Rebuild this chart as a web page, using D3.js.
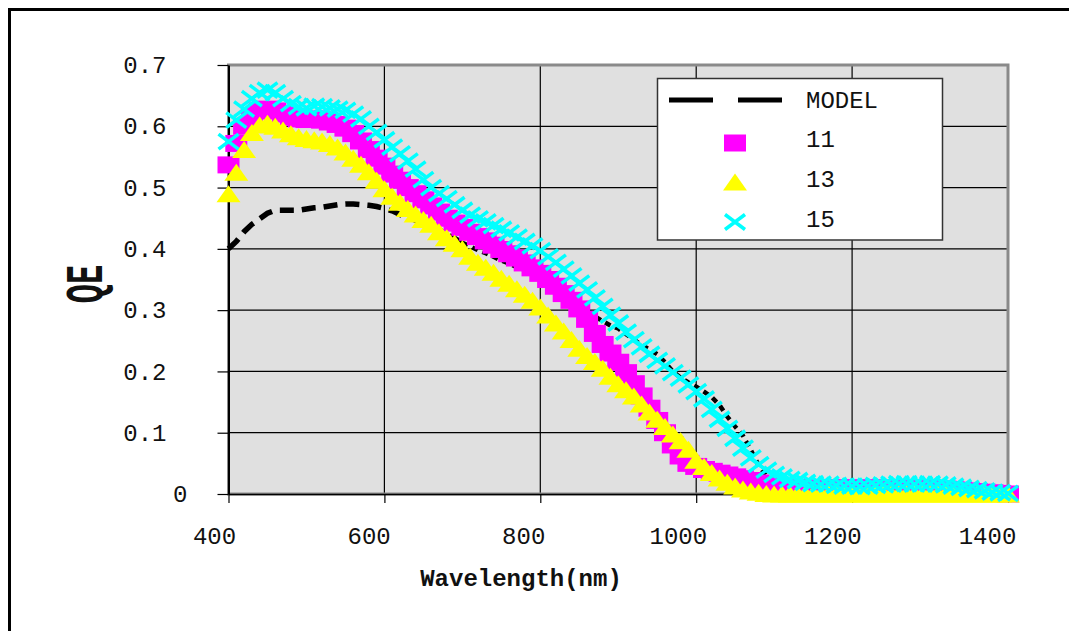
<!DOCTYPE html>
<html><head><meta charset="utf-8">
<script src="https://cdn.jsdelivr.net/npm/d3@7/dist/d3.min.js"></script>
<style>
body{margin:0;background:#fff;}
svg{display:block;}
text{font-family:'Liberation Mono','Courier New',monospace;fill:#111;}
</style>
</head><body>
<svg id="chart" width="1069" height="631"></svg>
<script>
// ---------------- data ----------------
const wavelength = [
 400,410,420,430,440,450,460,470,480,490,
 500,510,520,530,540,550,560,570,580,590,
 600,610,620,630,640,650,660,670,680,690,
 700,710,720,730,740,750,760,770,780,790,
 800,810,820,830,840,850,860,870,880,890,
 900,910,920,930,940,950,960,970,980,990,
 1000,1010,1020,1030,1040,1050,1060,1070,1080,1090,
 1100,1110,1120,1130,1140,1150,1160,1170,1180,1190,
 1200,1210,1220,1230,1240,1250,1260,1270,1280,1290,
 1300,1310,1320,1330,1340,1350,1360,1370,1380,1390,
 1400];
const qeModel = [
 0.400,0.412,0.428,0.440,0.449,0.458,0.463,0.463,0.463,0.463,
 0.465,0.467,0.468,0.470,0.472,0.473,0.473,0.472,0.471,0.469,
 0.466,0.462,0.456,0.451,0.447,0.444,0.438,0.431,0.424,0.417,
 0.410,0.404,0.398,0.393,0.387,0.381,0.376,0.370,0.365,0.360,
 0.356,0.350,0.340,0.330,0.320,0.311,0.300,0.290,0.282,0.275,
 0.270,0.261,0.252,0.243,0.236,0.228,0.215,0.200,0.190,0.182,
 0.175,0.167,0.158,0.145,0.126,0.110,0.095,0.072,0.047,0.030,
 0.020,0.014,0.011,0.010,0.010,0.010,0.010,0.010,0.010,0.010,
 0.010,0.010,0.010,0.010,0.010,0.010,0.010,0.010,0.010,0.010,
 0.010,0.010,0.010,0.010,0.009,0.009,0.009,0.009,0.008,0.008,
 0.008];
const qe11 = [
 0.537,0.572,0.600,0.617,0.625,0.628,0.625,0.620,0.615,0.612,
 0.611,0.612,0.610,0.607,0.603,0.597,0.588,0.576,0.562,0.548,
 0.535,0.522,0.512,0.500,0.490,0.480,0.470,0.460,0.450,0.442,
 0.435,0.427,0.420,0.413,0.406,0.399,0.392,0.385,0.377,0.369,
 0.360,0.350,0.339,0.327,0.316,0.302,0.285,0.262,0.244,0.230,
 0.215,0.198,0.180,0.160,0.140,0.120,0.100,0.080,0.062,0.050,
 0.045,0.040,0.037,0.034,0.031,0.028,0.025,0.022,0.018,0.015,
 0.013,0.012,0.011,0.011,0.010,0.010,0.010,0.010,0.010,0.010,
 0.010,0.010,0.010,0.010,0.010,0.009,0.009,0.009,0.009,0.009,
 0.009,0.008,0.008,0.007,0.006,0.005,0.004,0.003,0.002,0.001,
 0.000];
const qe13 = [
 0.490,0.525,0.562,0.590,0.602,0.605,0.600,0.594,0.588,0.583,
 0.580,0.578,0.576,0.572,0.566,0.558,0.548,0.538,0.526,0.512,
 0.498,0.486,0.476,0.466,0.457,0.448,0.440,0.428,0.418,0.409,
 0.400,0.388,0.378,0.370,0.362,0.352,0.344,0.335,0.326,0.316,
 0.305,0.292,0.279,0.266,0.252,0.238,0.226,0.216,0.205,0.192,
 0.180,0.170,0.160,0.147,0.134,0.122,0.110,0.098,0.087,0.073,
 0.055,0.045,0.035,0.026,0.019,0.013,0.008,0.005,0.003,0.001,
 0.000,0.000,0.000,0.000,0.000,0.000,0.000,0.000,0.000,0.000,
 0.000,0.000,0.000,0.000,0.000,0.000,0.000,0.000,0.000,0.000,
 0.000,0.000,0.000,0.000,0.000,0.000,0.000,0.000,0.000,0.000,
 0.000];
const qe15 = [
 0.575,0.610,0.628,0.645,0.655,0.659,0.655,0.645,0.637,0.632,
 0.630,0.633,0.632,0.630,0.628,0.626,0.620,0.612,0.600,0.590,
 0.578,0.566,0.555,0.543,0.530,0.513,0.500,0.490,0.482,0.472,
 0.463,0.455,0.449,0.444,0.438,0.432,0.426,0.419,0.412,0.405,
 0.397,0.387,0.378,0.367,0.356,0.344,0.333,0.320,0.306,0.292,
 0.279,0.264,0.252,0.240,0.228,0.218,0.209,0.198,0.189,0.178,
 0.167,0.155,0.138,0.122,0.107,0.091,0.075,0.059,0.048,0.039,
 0.032,0.028,0.024,0.022,0.019,0.017,0.016,0.016,0.014,0.013,
 0.013,0.012,0.013,0.014,0.015,0.016,0.017,0.017,0.016,0.016,
 0.017,0.016,0.015,0.013,0.011,0.009,0.007,0.005,0.003,0.002,
 0.001];
const xTicks = [400,600,800,1000,1200,1400];
const yTicks = [0,0.1,0.2,0.3,0.4,0.5,0.6,0.7];
const seriesNames = ["MODEL","11","13","15"];

// ---------------- layout ----------------
const svg = d3.select("#chart");
const m = {left:228.5, right:1008, top:65, bottom:494};
const x = d3.scaleLinear().domain([400,1400]).range([m.left, m.right]);
const y = d3.scaleLinear().domain([0,0.7]).range([m.bottom, m.top]);
const xLabelPos = d3.scaleLinear().domain([400,1400]).range([214,987]);

// outer frame
svg.append("rect").attr("x",9.5).attr("y",9.5).attr("width",1200).attr("height",800)
  .attr("fill","none").attr("stroke","#000").attr("stroke-width",3);

// plot background
svg.append("rect").attr("x",m.left).attr("y",m.top)
  .attr("width",m.right-m.left).attr("height",m.bottom-m.top).attr("fill","#e0e0e0");

// gridlines
const grid = svg.append("g");
grid.selectAll(".vg").data(xTicks.slice(1,-1)).join("line")
  .attr("x1",d=>x(d)).attr("x2",d=>x(d)).attr("y1",m.top).attr("y2",m.bottom)
  .attr("stroke","#000").attr("stroke-width",1.2);
grid.selectAll(".hg").data(yTicks.slice(1,-1)).join("line")
  .attr("x1",m.left).attr("x2",m.right).attr("y1",d=>y(d)).attr("y2",d=>y(d))
  .attr("stroke","#000").attr("stroke-width",1.2);

// plot border (gray)
svg.append("rect").attr("x",m.left).attr("y",m.top)
  .attr("width",m.right-m.left).attr("height",m.bottom-m.top)
  .attr("fill","none").attr("stroke","#8a8a8a").attr("stroke-width",3);

// axes
const gx = svg.append("g").attr("transform",`translate(0,${m.bottom})`)
  .call(d3.axisBottom(x).tickValues(xTicks).tickSize(9).tickPadding(24).tickSizeOuter(0).tickFormat(d=>d));
gx.select(".domain").attr("stroke","#000").attr("stroke-width",1.5);
gx.selectAll(".tick line").attr("stroke","#000").attr("stroke-width",1.2);
gx.selectAll(".tick text").attr("x",d=>xLabelPos(d)-x(d))
  .style("font-size","24px").style("font-family","'Liberation Mono','Courier New',monospace").attr("fill","#111");

const gy = svg.append("g").attr("transform",`translate(${m.left},0)`)
  .call(d3.axisLeft(y).tickValues(yTicks).tickSize(11).tickPadding(51).tickSizeOuter(0)
    .tickFormat(d=>d===0?"0":d.toFixed(1)));
gy.select(".domain").attr("stroke","#000").attr("stroke-width",2);
gy.selectAll(".tick line").attr("stroke","#000").attr("stroke-width",1.2);
gy.selectAll(".tick text")
  .style("font-size","24px").style("font-family","'Liberation Mono','Courier New',monospace").attr("fill","#111")
  .filter(d=>d===0).attr("x",-41);

// axis titles
svg.append("text").attr("x",521).attr("y",586).attr("text-anchor","middle")
  .style("font-size","24px").style("font-weight","bold").text("Wavelength(nm)");
svg.append("text").attr("transform","translate(84,284) rotate(-90) scale(1,1.7)")
  .attr("text-anchor","middle").attr("dy","0.33em")
  .style("font-size","32px").style("font-weight","bold").text("QE");

// ---------------- series ----------------
const idx = d3.range(wavelength.length);
const plot = svg.append("g");

// model (dashed black)
const lineGen = vals => d3.line().x(i=>x(wavelength[i])).y(i=>y(vals[i]));
plot.append("path").datum(idx.filter(i=>wavelength[i]<=700))
  .attr("d",lineGen(qeModel)).attr("fill","none").attr("stroke","#000")
  .attr("stroke-width",5.5).attr("stroke-dasharray","14,8");
plot.append("path").datum(idx.filter(i=>wavelength[i]>=700))
  .attr("d",lineGen(qeModel)).attr("fill","none").attr("stroke","#000")
  .attr("stroke-width",4.5).attr("stroke-dasharray","6,5");

const squarePath = "M-11,-8.5h22v17h-22z";
const triPath = "M0,-8.5L12,8.5L-12,8.5Z";
const crossPath = "M-10,-7.5L10,7.5M-10,7.5L10,-7.5";

plot.append("g").selectAll("path").data(idx).join("path")
  .attr("transform",i=>`translate(${x(wavelength[i])},${y(qe11[i])})`)
  .attr("d",squarePath).attr("fill","#ff00ff");
plot.append("g").selectAll("path").data(idx).join("path")
  .attr("transform",i=>`translate(${x(wavelength[i])},${y(qe13[i])})`)
  .attr("d",triPath).attr("fill","#ffff00");
plot.append("g").selectAll("path").data(idx).join("path")
  .attr("transform",i=>`translate(${x(wavelength[i])},${y(qe15[i])})`)
  .attr("d",crossPath).attr("fill","none").attr("stroke","#00ffff").attr("stroke-width",3.5);

// ---------------- legend ----------------
const lg = svg.append("g");
lg.append("rect").attr("x",657.5).attr("y",78.5).attr("width",285).attr("height",161.5)
  .attr("fill","#fff").attr("stroke","#333").attr("stroke-width",1.5);
lg.append("line").attr("x1",669).attr("x2",782).attr("y1",100).attr("y2",100)
  .attr("stroke","#000").attr("stroke-width",5).attr("stroke-dasharray","44,25");
lg.append("path").attr("transform",`translate(735,143)`).attr("d",squarePath).attr("fill","#ff00ff");
lg.append("path").attr("transform",`translate(735,182)`).attr("d",triPath).attr("fill","#ffff00");
lg.append("path").attr("transform",`translate(735,222)`).attr("d",crossPath)
  .attr("fill","none").attr("stroke","#00ffff").attr("stroke-width",3.5);
lg.selectAll(".lt").data(seriesNames).join("text")
  .attr("x",806).attr("y",(d,i)=>[100,139,179,219][i]+8)
  .style("font-size","24px").text(d=>d);
</script>
</body></html>
